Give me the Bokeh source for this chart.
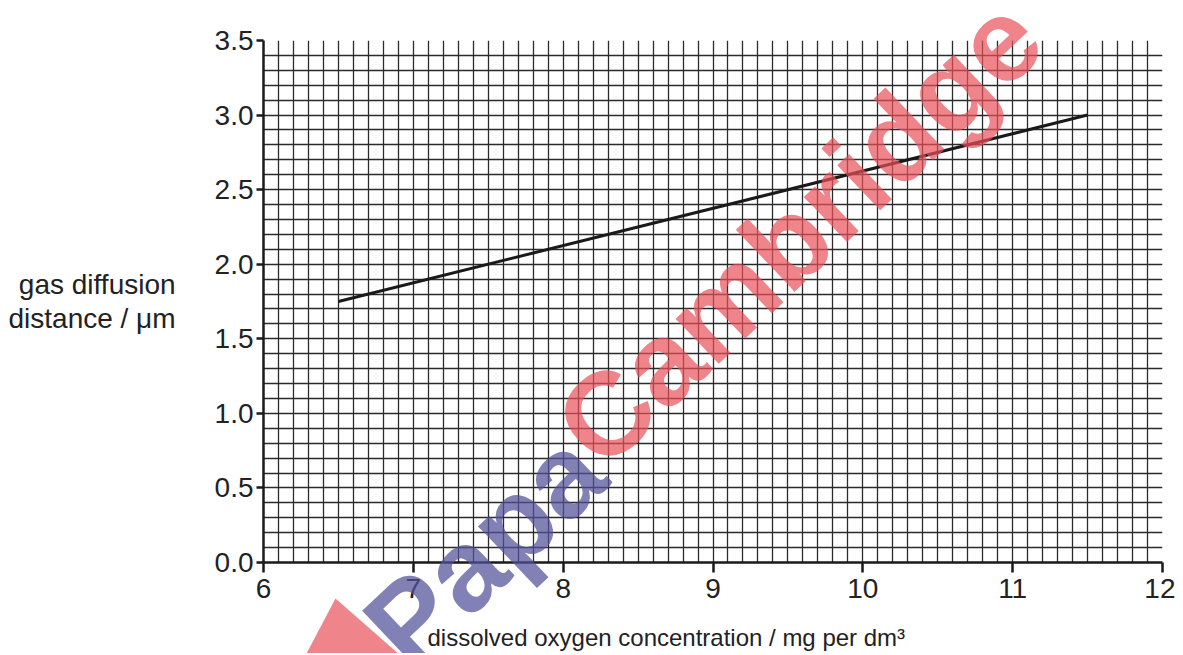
import numpy as np
from bokeh.plotting import figure
from bokeh.models import Range1d, FixedTicker
from bokeh.core.properties import value
from bokeh.embed import file_html
from bokeh.resources import INLINE

# ---- data ----
line_x = [6.5, 11.5]
line_y = [1.75, 3.0]
x_ticks = [6, 7, 8, 9, 10, 11, 12]
x_tick_labels = ["6", "7", "8", "9", "10", "11", "12"]
y_ticks = [0.0, 0.5, 1.0, 1.5, 2.0, 2.5, 3.0, 3.5]
y_tick_labels = ["0.0", "0.5", "1.0", "1.5", "2.0", "2.5", "3.0", "3.5"]
x_title = "dissolved oxygen concentration / mg per dm\u00b3"
y_title = "gas diffusion\ndistance / \u03bcm"
watermark_words = ["Papa", "Cambridge"]

FONT = "Liberation Sans"
W, H = 1175, 653

p = figure(width=W, height=H, output_backend="svg", toolbar_location=None,
           x_range=Range1d(6, 12), y_range=Range1d(0, 3.5),
           min_border_left=263, min_border_right=13, min_border_top=40,
           min_border_bottom=91)
p.outline_line_color = None
p.background_fill_color = "white"
p.border_fill_color = "white"

# fine graph-paper grid (0.1 steps)
gx = [round(v, 1) for v in np.arange(6.0, 12.0001, 0.1)]
gy = [round(v, 1) for v in np.arange(0.0, 3.5001, 0.1)]
p.xgrid.ticker = FixedTicker(ticks=gx)
p.ygrid.ticker = FixedTicker(ticks=gy)
for g in (p.xgrid, p.ygrid):
    g.grid_line_color = "#2b2b2b"
    g.grid_line_width = 1.3
    g.grid_line_alpha = 1.0

# axes
p.xaxis.ticker = FixedTicker(ticks=x_ticks)
p.yaxis.ticker = FixedTicker(ticks=y_ticks)
p.xaxis.major_label_overrides = {t: l for t, l in zip(x_ticks, x_tick_labels)}
p.yaxis.major_label_overrides = {t: l for t, l in zip(y_ticks, y_tick_labels)}
for ax in (p.xaxis, p.yaxis):
    ax.axis_line_width = 2.5
    ax.axis_line_color = "#1a1a1a"
    ax.major_tick_line_width = 2.5
    ax.major_tick_line_color = "#1a1a1a"
    ax.major_tick_in = 0
    ax.minor_tick_line_color = None
    ax.major_label_text_font = FONT
    ax.major_label_text_font_size = "28px"
    ax.major_label_text_color = "#222222"
p.xaxis.major_tick_out = 10
p.yaxis.major_tick_out = 7
p.xaxis.major_label_standoff = 6
p.yaxis.major_label_standoff = 3

# y title: horizontal, two lines
p.yaxis.axis_label = y_title
p.yaxis.axis_label_orientation = "horizontal"
p.yaxis.axis_label_text_font = FONT
p.yaxis.axis_label_text_font_size = "28px"
p.yaxis.axis_label_text_font_style = "normal"
p.yaxis.axis_label_text_color = "#222222"
p.yaxis.axis_label_text_line_height = 1.1
p.yaxis.axis_label_standoff = 36

# the line
p.line(line_x, line_y, line_color="#1a1a1a", line_width=3)

# ---- overlay: a transparent full-canvas figure laid over the chart ----
w = figure(width=W, height=H, output_backend="svg", toolbar_location=None,
           x_range=Range1d(0, W), y_range=Range1d(0, H),
           x_axis_type=None, y_axis_type=None,
           min_border=0, min_border_left=0, min_border_right=0,
           min_border_top=0, min_border_bottom=0)
w.outline_line_color = None
w.background_fill_alpha = 0
w.border_fill_alpha = 0
w.xgrid.visible = False
w.ygrid.visible = False
w.styles = {"position": "absolute", "top": "0px", "left": "0px",
            "pointer-events": "none"}

# x-axis title (left-aligned under the axis, as in the original)
w.text(x=[427], y=[16], text=[x_title], text_align="left",
       text_baseline="alphabetic", text_font=value(FONT),
       text_font_size=value("24px"), text_color="#222222")

# watermark
w.patch([305, 335, 400], [-2, 55, -2], fill_color="#e8505a", fill_alpha=0.7,
        line_color=None)
w.text(x=[484], y=[104], text=[watermark_words[0]], angle=0.76,
       text_align="center", text_baseline="middle", text_font=value(FONT),
       text_font_style="bold", text_font_size=value("116px"),
       text_color="#50509a", text_alpha=0.72)
w.text(x=[798], y=[422], text=[watermark_words[1]], angle=0.76,
       text_align="center", text_baseline="middle", text_font=value(FONT),
       text_font_style="bold", text_font_size=value("118px"),
       text_color="#e8505a", text_alpha=0.7)

open("out.html", "w").write(file_html([p, w], INLINE))
